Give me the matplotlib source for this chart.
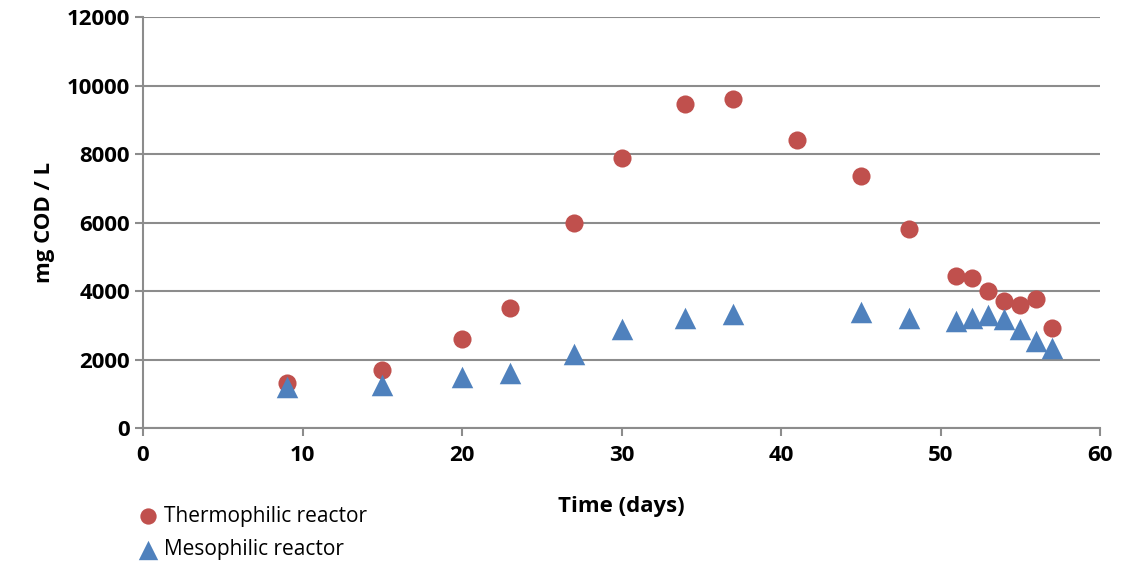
import matplotlib
matplotlib.use("Agg")
import matplotlib.pyplot as plt

# data
days_thermo = [9, 15, 20, 23, 27, 30, 34, 37, 41, 45, 48, 51, 52, 53, 54, 55, 56, 57]
cod_thermo = [1300, 1700, 2600, 3500, 6000, 7880, 9450, 9620, 8400, 7350, 5820,
              4450, 4380, 4000, 3720, 3600, 3780, 2920]

days_meso = [9, 15, 20, 23, 27, 30, 34, 37, 45, 48, 51, 52, 53, 54, 55, 56, 57]
cod_meso = [1200, 1250, 1500, 1600, 2150, 2880, 3200, 3320, 3400, 3220,
            3120, 3200, 3300, 3180, 2880, 2530, 2350]

plt.rcParams["font.family"] = ["Open Sans", "DejaVu Sans"]

fig = plt.figure(figsize=(11.21, 5.66), dpi=100)
ax = fig.add_axes([143 / 1121, 1 - 428 / 566, (1100 - 143) / 1121, (428 - 17) / 566])

grid_col = "#8c8c8c"
ax.scatter(days_thermo, cod_thermo, s=170, marker="o", color="#c0504d",
           label="Thermophilic reactor", zorder=3, linewidths=0)
ax.scatter(days_meso, cod_meso, s=240, marker="^", color="#4f81bd",
           label="Mesophilic reactor", zorder=3, linewidths=0)

ax.set_xlim(0, 60)
ax.set_ylim(0, 12000)
ax.set_xticks(range(0, 61, 10))
ax.set_yticks(range(0, 12001, 2000))
ax.yaxis.grid(True, color=grid_col, linewidth=1.5)
ax.set_axisbelow(True)

for side in ["top", "right"]:
    ax.spines[side].set_visible(False)
for side in ["left", "bottom"]:
    ax.spines[side].set_color(grid_col)
    ax.spines[side].set_linewidth(1.5)

ax.tick_params(axis="both", direction="out", length=6, width=1.5, color=grid_col,
               labelsize=16)
ax.tick_params(axis="x", pad=6)
for lab in ax.get_xticklabels() + ax.get_yticklabels():
    lab.set_fontweight("bold")

ax.set_xlabel("Time (days)", fontsize=16, fontweight="bold", labelpad=22)
ax.set_ylabel("mg COD / L", fontsize=16, fontweight="bold", labelpad=8)

fig.legend(loc="upper left", bbox_to_anchor=(114 / 1121, 1 - 487 / 566),
           frameon=False, fontsize=15, handletextpad=0.0, labelspacing=0.6,
           markerscale=0.9, handlelength=1.5)

fig.savefig("out.png", dpi=100)
